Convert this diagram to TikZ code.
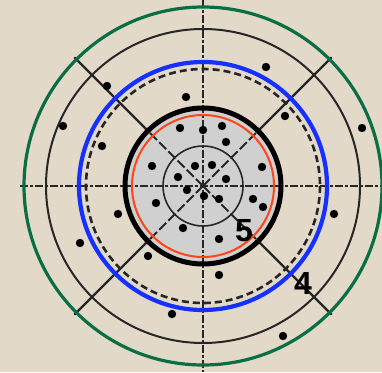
\documentclass[tikz,border=0pt]{standalone}
\usepackage{fontspec}
\setmainfont{Liberation Sans}
\definecolor{bgPaper}{HTML}{E2D9C9}
\definecolor{ringGreen}{HTML}{0A6E45}
\definecolor{ringBlue}{HTML}{1530FF}
\definecolor{ringRed}{HTML}{FF4418}
\definecolor{coreGray}{HTML}{D0D0D0}
\definecolor{lineDark}{HTML}{262626}
\usetikzlibrary{calc}

\begin{document}
\begin{tikzpicture}[x=1pt, y=-1pt,
    axis/.style={draw=lineDark, line width=2.2pt, dash pattern=on 8pt off 2pt on 3pt off 2pt},
    spoke/.style={draw=lineDark, line width=2.2pt},
    dot/.style={fill=black},
    digit/.style={font=\fontsize{32}{32}\selectfont\bfseries, text=black, inner sep=0pt}]
  \useasboundingbox[fill=bgPaper] (0,0) rectangle (382,372);
  \coordinate (c) at (203,186);
  % core
  \fill[coreGray] (c) circle (78);
  % spokes
  \foreach \a in {45,135,225,315} {
    \draw[spoke] ($(c)+(\a:78)$) -- ($(c)+(\a:182)$);
    \draw[spoke, line width=1.8pt, dash pattern=on 10pt off 3pt] (c) -- ($(c)+(\a:78)$);
  }
  % axes
  \draw[axis] (20,186) -- (381,186);
  \draw[axis] (203,0) -- (203,372);
  % rings
  \draw[ringGreen, line width=3.2pt] (c) circle (179);
  \draw[lineDark, line width=2pt] (c) circle (157);
  \draw[ringBlue, line width=4.2pt] (c) circle (124);
  \draw[lineDark, line width=2.6pt, dash pattern=on 7pt off 4pt] (c) circle (117);
  \draw[black, line width=5pt] (c) circle (78);
  \draw[ringRed, line width=2pt] (c) circle (71);
  \draw[lineDark, line width=1.6pt] (c) circle (40);
  % particles
  \foreach \p in {(107,86),(63,126),(102,146),(186,97),(266,67),(285,116),(362,128),
                  (118,214),(80,243),(148,256),(172,314),(334,214),(283,336),(219,275),
                  (180,128),(203,130),(222,126),(226,142),(152,166),(195,166),(212,165),
                  (262,167),(178,177),(226,179),(187,190),(204,196),(219,199),(253,199),
                  (263,207),(156,203),(183,228),(219,239)}
    \fill[dot] \p circle (4.2);
  % labels
  \node[digit] (lblFive) at (244,231) {5};
  \node[digit] (lblFour) at (303,283) {4};
\end{tikzpicture}
\end{document}
